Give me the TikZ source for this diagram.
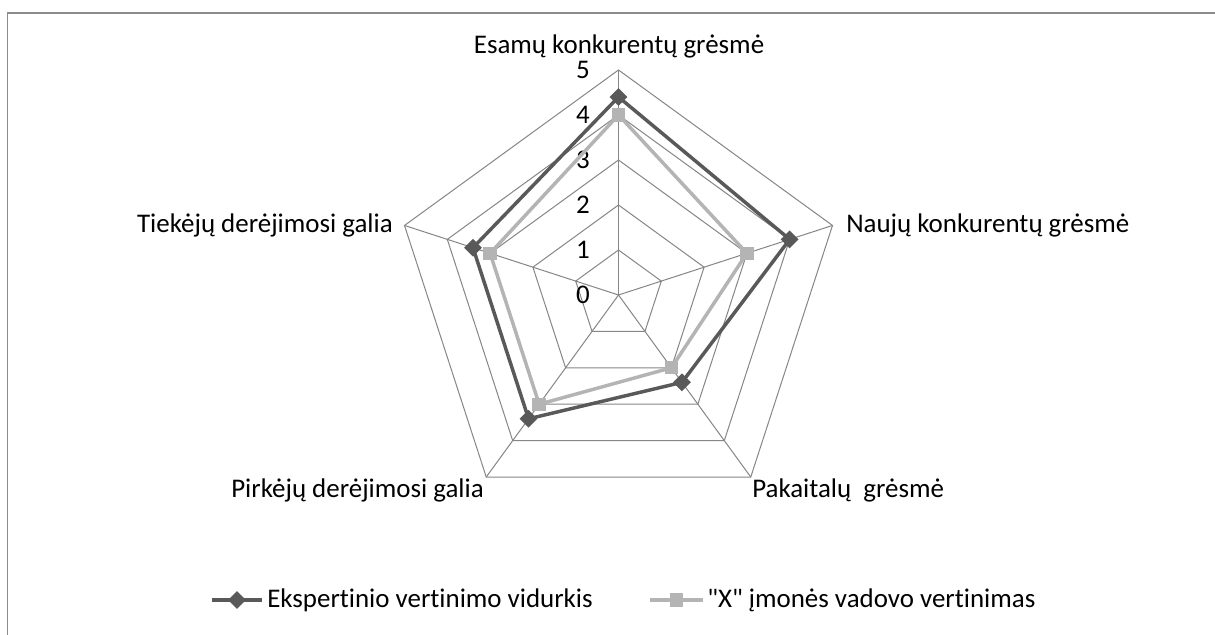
\documentclass[tikz,border=0pt]{standalone}
\usepackage{fontspec}
\setmainfont{Carlito}[Ligatures={TeXOff,CommonOff}]
\usetikzlibrary{shapes.geometric}

\definecolor{gridgray}{HTML}{868686}
\definecolor{framegray}{HTML}{8C8C8C}
\definecolor{expertc}{HTML}{595959}
\definecolor{managerc}{HTML}{B4B4B4}

\begin{document}
\begin{tikzpicture}[x=0.75pt,y=0.75pt,
  font=\fontsize{20.2}{24}\selectfont,
  gridline/.style={draw=gridgray,line width=0.75pt},
  frameline/.style={draw=framegray,line width=1pt},
  expertline/.style={draw=expertc,line width=2.6pt,line join=miter},
  managerline/.style={draw=managerc,line width=2.6pt,line join=miter},
  diamondmark/.style={diamond,fill=expertc,draw=none,inner sep=0pt,
    minimum width=13.5pt,minimum height=13.5pt},
  squaremark/.style={rectangle,fill=managerc,draw=none,inner sep=0pt,
    minimum size=10pt},
  txt/.style={inner sep=0pt,text=black},
  tick/.style={inner sep=0pt,text=black}]

\useasboundingbox (0,0) rectangle (1215,635);
\fill[white] (0,0) rectangle (1215,635);

% chart area border (top and left edges)
\draw[frameline] (7.5,0) -- (7.5,622) -- (1215,622);

\begin{scope}[shift={(618.5,340)}]
  % concentric pentagons for values 1..5
  \foreach \k in {1,...,5} {
    \pgfmathsetmacro{\r}{45*\k}
    \draw[gridline] (90:\r) -- (18:\r) -- (-54:\r) -- (-126:\r) -- (162:\r) -- cycle;
  }
  % spokes
  \coordinate (O) at (0,0);
  \foreach \a/\n in {90/A,18/B,-54/C,-126/D,162/E}
    \coordinate (\n) at (\a:225);
  \foreach \n in {A,B,C,D,E}
    \draw[gridline] (O) -- (\n);

  % scale values
  \foreach \k in {0,...,5}
    \node[tick] (t\k) at (-35.5,45*\k) {\k};

  % expert average
  \coordinate (e1) at (90:4.4*45);
  \coordinate (e2) at (18:4.0*45);
  \coordinate (e3) at (-54:2.4*45);
  \coordinate (e4) at (-126:3.4*45);
  \coordinate (e5) at (162:3.4*45);
  \draw[expertline] (e1) -- (e2) -- (e3) -- (e4) -- (e5) -- cycle;
  \foreach \i in {1,...,5}
    \node[diamondmark] (de\i) at (e\i) {};

  % manager's assessment
  \coordinate (m1) at (90:4.0*45);
  \coordinate (m2) at (18:3.0*45);
  \coordinate (m3) at (-54:2.0*45);
  \coordinate (m4) at (-126:3.0*45);
  \coordinate (m5) at (162:3.0*45);
  \draw[managerline] (m1) -- (m2) -- (m3) -- (m4) -- (m5) -- cycle;
  \foreach \i in {1,...,5}
    \node[squaremark] (sm\i) at (m\i) {};
\end{scope}

% category labels
\node[txt,anchor=base] (cat1) at (619,581) {Esamų konkurentų grėsmė};
\node[txt,anchor=base west] (cat2) at (846,402) {Naujų konkurentų grėsmė};
\node[txt,anchor=base west] (cat3) at (752,137) {Pakaitalų~ grėsmė};
\node[txt,anchor=base east] (cat4) at (484,137) {Pirkėjų derėjimosi galia};
\node[txt,anchor=base east] (cat5) at (393,402) {Tiekėjų derėjimosi galia};

% legend
\coordinate (l1a) at (212,35);
\coordinate (l1b) at (262,35);
\draw[expertline] (l1a) -- (l1b);
\node[diamondmark] (l1m) at (237,35) {};
\node[txt,anchor=base west] (l1t) at (267,27) {Ekspertinio vertinimo vidurkis};

\coordinate (l2a) at (650,35);
\coordinate (l2b) at (703,35);
\draw[managerline] (l2a) -- (l2b);
\node[squaremark] (l2m) at (676.5,35) {};
\node[txt,anchor=base west] (l2t) at (707,27) {"X" įmonės vadovo vertinimas};
\end{tikzpicture}
\end{document}
